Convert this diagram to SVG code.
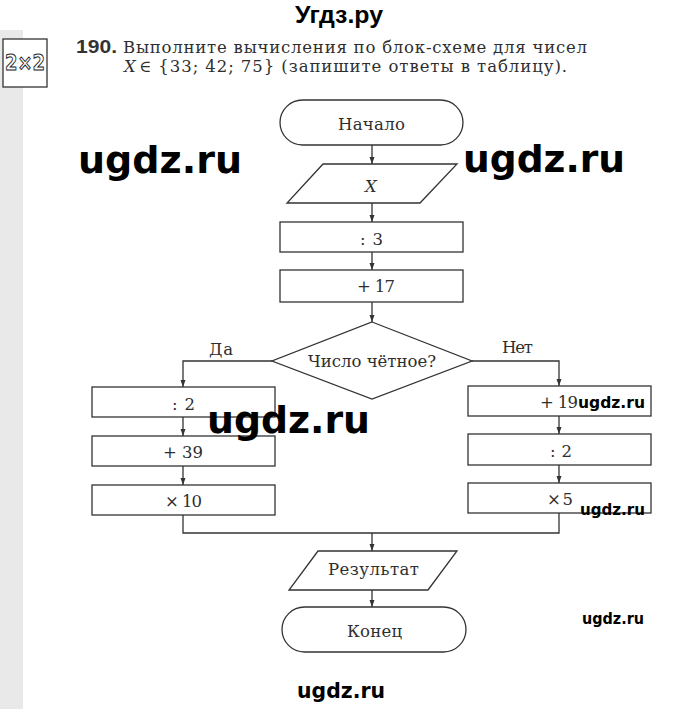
<svg xmlns="http://www.w3.org/2000/svg" width="680" height="709" viewBox="0 0 680 709">
<defs>
<style>
.shape{fill:#fff;stroke:#333;stroke-width:1.3}
.lbl{font-family:"DejaVu Serif","Liberation Serif",serif;font-size:16.5px;fill:#2e2e2e}
.wm{font-family:"DejaVu Sans",Verdana,sans-serif;font-weight:bold;fill:#000}
.conn{fill:none;stroke:#333;stroke-width:1.3}
</style>
<marker id="ah" markerUnits="userSpaceOnUse" markerWidth="8" markerHeight="6" refX="7" refY="3" orient="auto">
<path d="M0,0.5 L7,3 L0,5.5 z" fill="#333"/>
</marker>
</defs>
<rect width="680" height="709" fill="#fff"/>
<rect x="0" y="30" width="23" height="679" fill="#e9e9e9"/>

<g id="header">
<text x="295" y="23" font-family="'Liberation Sans',Arial,sans-serif" font-weight="bold" font-size="23" textLength="88" lengthAdjust="spacingAndGlyphs" fill="#000">Угдз.ру</text>
<rect x="3" y="39" width="44" height="48" fill="#fff" stroke="#333" stroke-width="1.3"/>
<text x="5" y="70" font-family="'DejaVu Sans',sans-serif" font-weight="bold" font-size="22" textLength="40" lengthAdjust="spacingAndGlyphs" fill="#fff" stroke="#222" stroke-width="1">2×2</text>
<text x="76" y="53" font-family="'Liberation Sans',Arial,sans-serif" font-weight="bold" font-size="18" textLength="41" lengthAdjust="spacingAndGlyphs" fill="#333">190.</text>
<text class="lbl" x="123" y="53" font-size="17" textLength="464">Выполните вычисления по блок-схеме для чисел</text>
<text class="lbl" x="124" y="72" font-size="17" font-style="italic">X</text>
<text class="lbl" x="139" y="72" font-size="17" textLength="428">∈ {33; 42; 75} (запишите ответы в таблицу).</text>
</g>

<g id="connectors">
<path class="conn" d="M372,145 V164" marker-end="url(#ah)"/>
<path class="conn" d="M372,203 V222" marker-end="url(#ah)"/>
<path class="conn" d="M372,252 V270" marker-end="url(#ah)"/>
<path class="conn" d="M372,302 V322" marker-end="url(#ah)"/>
<path class="conn" d="M272,361 H183 V387" marker-end="url(#ah)"/>
<path class="conn" d="M472,361 H559 V386" marker-end="url(#ah)"/>
<path class="conn" d="M183,417 V436" marker-end="url(#ah)"/>
<path class="conn" d="M183,466 V485" marker-end="url(#ah)"/>
<path class="conn" d="M559,416 V434" marker-end="url(#ah)"/>
<path class="conn" d="M559,465 V483" marker-end="url(#ah)"/>
<path class="conn" d="M183,515 V533 H559 V513"/>
<path class="conn" d="M372,533 V551" marker-end="url(#ah)"/>
<path class="conn" d="M372,590 V607" marker-end="url(#ah)"/>
<text class="lbl" x="209" y="355" textLength="24">Да</text>
<text class="lbl" x="502" y="353" textLength="31">Нет</text>
</g>

<g id="start">
<rect class="shape" x="280" y="100" width="183" height="45" rx="22.5"/>
<text class="lbl" x="338" y="130" textLength="67">Начало</text>
</g>
<g id="input">
<polygon class="shape" points="323,164 457,164 420,203 287,203"/>
<text class="lbl" x="365" y="192" font-style="italic" textLength="13">X</text>
</g>
<g id="div3">
<rect class="shape" x="280" y="222" width="183" height="30"/>
<text class="lbl" x="360" y="245" textLength="23">: 3</text>
</g>
<g id="plus17">
<rect class="shape" x="280" y="270" width="183" height="32"/>
<text class="lbl" x="357" y="292" textLength="38">+ 17</text>
</g>
<g id="decision">
<polygon class="shape" points="372,322 472,361 372,399 272,361"/>
<text class="lbl" x="308" y="367" textLength="128">Число чётное?</text>
</g>
<g id="div2a">
<rect class="shape" x="92" y="387" width="183" height="30"/>
<text class="lbl" x="172" y="410" textLength="23">: 2</text>
</g>
<g id="plus39">
<rect class="shape" x="92" y="436" width="183" height="30"/>
<text class="lbl" x="163" y="458" textLength="40">+ 39</text>
</g>
<g id="times10">
<rect class="shape" x="92" y="485" width="183" height="30"/>
<text class="lbl" x="165" y="507" textLength="37">× 10</text>
</g>
<g id="plus19">
<rect class="shape" x="468" y="386" width="183" height="30"/>
<text class="lbl" x="540" y="408" textLength="38">+ 19</text>
</g>
<g id="div2b">
<rect class="shape" x="468" y="434" width="183" height="31"/>
<text class="lbl" x="550" y="457" textLength="22">: 2</text>
</g>
<g id="times5">
<rect class="shape" x="468" y="483" width="183" height="30"/>
<text class="lbl" x="547" y="505" textLength="26">× 5</text>
</g>
<g id="result">
<polygon class="shape" points="318,551 457,551 428,590 289,590"/>
<text class="lbl" x="328" y="575" textLength="91">Результат</text>
</g>
<g id="end">
<rect class="shape" x="282" y="607" width="184" height="45" rx="22.5"/>
<text class="lbl" x="347" y="637" textLength="55">Конец</text>
</g>

<g id="watermarks">
<text class="wm" x="78" y="173" font-size="38" textLength="164" lengthAdjust="spacingAndGlyphs">ugdz.ru</text>
<text class="wm" x="463" y="172" font-size="38" textLength="162" lengthAdjust="spacingAndGlyphs">ugdz.ru</text>
<text class="wm" x="207" y="433" font-size="38" textLength="163" lengthAdjust="spacingAndGlyphs">ugdz.ru</text>
<text class="wm" x="578" y="408" font-size="16" textLength="67" lengthAdjust="spacingAndGlyphs">ugdz.ru</text>
<text class="wm" x="580" y="515" font-size="16" textLength="65" lengthAdjust="spacingAndGlyphs">ugdz.ru</text>
<text class="wm" x="582" y="624" font-size="15" textLength="62" lengthAdjust="spacingAndGlyphs">ugdz.ru</text>
<text class="wm" x="297" y="698" font-size="21" textLength="88" lengthAdjust="spacingAndGlyphs">ugdz.ru</text>
</g>
</svg>
